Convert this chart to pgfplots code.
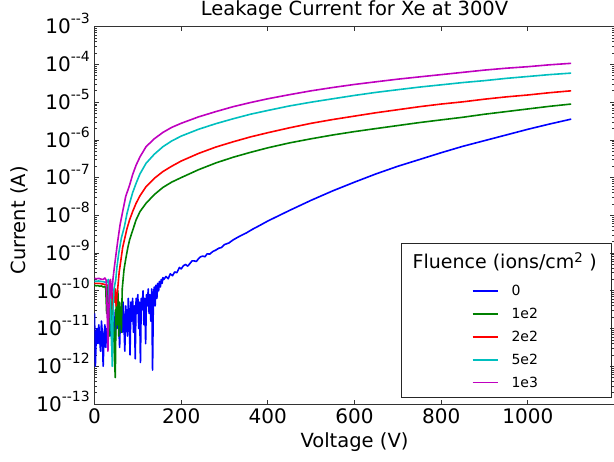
\documentclass[border=0pt]{standalone}
\usepackage{fontspec}
\setmainfont{DejaVu Sans}
\usepackage{pgfplots}
\pgfplotsset{compat=1.18}
\definecolor{mplblue}{rgb}{0,0,1}
\definecolor{mplgreen}{rgb}{0,0.5,0}
\definecolor{mplred}{rgb}{1,0,0}
\definecolor{mplcyan}{rgb}{0,0.75,0.75}
\definecolor{mplmagenta}{rgb}{0.75,0,0.75}
\begin{document}
\begin{tikzpicture}
\begin{axis}[
  at={(0pt,0pt)}, anchor=south west,
  scale only axis, width=520pt, height=377.3pt,
  xmin=0, xmax=1200, ymin=1e-13, ymax=1e-3,
  ymode=log, log basis y=10,
  axis line style={black!80, line width=0.9pt},
  every tick/.style={black!80, line width=0.7pt},
  xtick={0,200,400,600,800,1000},
  /pgf/number format/assume math mode=true,
  /pgf/number format/1000 sep={},
  tick label style={font=\fontsize{20}{24}\selectfont},
  xticklabel style={yshift=-1pt},
  yticklabel style={inner xsep=0pt, xshift=-4.5pt},
  yticklabel={10\raisebox{0.5em}[0pt][0pt]{\fontsize{14}{14}\selectfont\pgfmathparse{int(round(\tick))}-\pgfmathprintnumber[int trunc]{\pgfmathresult}}},
  title={Leakage Current for Xe at 300V},
  title style={font=\fontsize{19.5}{23}\selectfont, at={(0.5,1)}, anchor=south, yshift=-2pt},
  xlabel={Voltage (V)},
  xlabel style={font=\fontsize{19.5}{23}\selectfont, at={(rel axis cs:0.5,0)}, anchor=center, yshift=-38pt},
  ylabel={Current (A)},
  ylabel style={font=\fontsize{19.5}{23}\selectfont, at={(axis description cs:-0.1452,0.487)}, anchor=center},
  legend image code/.code={\draw[#1, line width=1.6pt] (0pt,0pt) -- (25pt,0pt); \path (36pt,0pt);},
  legend cell align=left,
  legend style={at={(rel axis cs:0.7254,0.321)}, anchor=north west, draw=none, fill=none,
    font=\fontsize{14}{16}\selectfont, row sep=7pt, inner sep=0pt},
]
% 0
\addplot[mplblue, line width=1.6pt, line join=round] coordinates {
(0,2.51e-11)(2,1.0e-12)(4,6.31e-12)(6,1.0e-11)(8,3.98e-12)(10,1.26e-11)(12,5.01e-12)(14,2.51e-12)
(16,1.58e-11)(18,7.94e-12)(20,1.0e-12)(22,6.31e-12)(24,1.26e-11)(26,3.16e-12)(28,1.0e-11)(30,5.01e-12)
(32,1.26e-11)(34,7.94e-12)(36,2.51e-11)(38,6.31e-12)(40,1.58e-11)(42,1.0e-11)(44,3.16e-11)(46,1.26e-11)
(48,5.01e-12)(50,2.51e-11)(52,1.0e-11)(54,3.98e-11)(56,1.26e-11)(58,3.16e-12)(60,3.16e-11)(62,1.58e-11)
(64,7.94e-12)(66,5.01e-11)(68,1.26e-11)(70,2.51e-12)(72,3.98e-11)(74,2.0e-11)(76,6.31e-12)(78,6.31e-11)
(80,2.51e-11)(82,2.0e-12)(84,5.01e-11)(86,1.58e-11)(88,6.31e-11)(90,7.94e-12)(92,3.98e-11)(94,1.58e-12)
(96,6.31e-11)(98,2.51e-11)(100,7.94e-11)(102,1.0e-11)(104,5.01e-11)(106,1.26e-12)(108,6.31e-11)(110,3.16e-11)
(112,1.0e-10)(114,1.26e-11)(116,6.31e-11)(118,3.98e-12)(120,7.94e-11)(122,3.98e-11)(124,1.12e-10)(126,2.51e-11)
(128,7.94e-11)(130,1.58e-11)(132,1.12e-10)(134,7.94e-13)(136,7.94e-11)(138,1.26e-10)(140,3.98e-11)(142,1.41e-10)
(144,6.31e-11)(146,1.58e-10)(148,1.0e-10)(150,1.78e-10)(152,1.26e-10)(154,2.0e-10)(156,1.58e-10)(158,2.24e-10)
(160,2.0e-10)(165,2.40e-10)(170,2.09e-10)(175,2.82e-10)(180,2.51e-10)(185,3.16e-10)(190,3.02e-10)(196,4.17e-10)
(200,3.80e-10)(205,4.6e-10)(210,5.01e-10)(215,4.5e-10)(220,5.25e-10)(225,6.2e-10)(230,6.2e-10)(235,6.0e-10)
(240,7.08e-10)(245,8.0e-10)(250,8.32e-10)(255,8.0e-10)(260,9.55e-10)(266,9.4e-10)(273,1.10e-9)(280,1.2e-9)
(287,1.35e-9)(293,1.4e-9)(300,1.68e-9)(310,1.85e-9)(320,2.24e-9)(335,2.8e-9)(350,3.4e-9)(365,4.3e-9)
(380,5.3e-9)(400,7.08e-9)(450,1.35e-8)(500,2.51e-8)(550,4.47e-8)(600,7.59e-8)(650,1.26e-7)(700,2.0e-7)
(750,3.02e-7)(800,4.57e-7)(850,6.76e-7)(900,9.55e-7)(950,1.35e-6)(1000,1.91e-6)(1050,2.63e-6)(1100,3.55e-6)
};
\addlegendentry{0}
% 1e2
\addplot[mplgreen, line width=1.6pt, line join=round] coordinates {
(0,1.41e-10)(4,1.35e-10)(8,1.38e-10)(12,1.32e-10)(16,1.35e-10)(20,1.26e-10)(24,1.32e-10)(26,1.12e-10)
(28,2.51e-11)(30,1.26e-10)(32,6.31e-11)(34,6.31e-12)(36,1.0e-10)(38,3.98e-11)(40,3.16e-12)(42,7.94e-11)
(44,1.58e-11)(46,1.58e-12)(48,5.01e-13)(50,6.31e-11)(52,1.26e-11)(54,1.0e-10)(56,6.31e-12)(58,5.01e-11)
(60,2.51e-11)(62,7.94e-12)(64,1.12e-10)(66,2.0e-10)(68,3.55e-10)(70,5.01e-10)(73,7.94e-10)(77,1.41e-9)
(81,2.24e-9)(88,3.98e-9)(96,7.59e-9)(105,1.26e-8)(119,2.09e-8)(138,3.55e-8)(158,5.50e-8)(178,7.59e-8)
(200,1.0e-7)(240,1.62e-7)(280,2.45e-7)(320,3.47e-7)(360,4.68e-7)(400,6.17e-7)(450,8.32e-7)(500,1.07e-6)
(550,1.35e-6)(600,1.66e-6)(650,2.0e-6)(700,2.40e-6)(750,2.88e-6)(800,3.39e-6)(850,3.98e-6)(900,4.79e-6)
(950,5.62e-6)(1000,6.61e-6)(1050,7.76e-6)(1100,8.91e-6)
};
\addlegendentry{1e2}
% 2e2
\addplot[mplred, line width=1.6pt, line join=round] coordinates {
(0,1.58e-10)(10,1.58e-10)(20,1.51e-10)(30,1.41e-10)(36,1.26e-10)(40,7.94e-11)(42,3.16e-11)(44,1.0e-10)
(46,5.01e-11)(48,1.12e-10)(50,3.98e-11)(52,7.94e-11)(54,1.29e-10)(57,3.16e-10)(61,6.61e-10)(65,1.41e-9)
(69,2.24e-9)(75,4.47e-9)(81,7.59e-9)(88,1.26e-8)(96,2.09e-8)(105,3.31e-8)(119,5.75e-8)(138,9.55e-8)
(158,1.45e-7)(178,2.0e-7)(200,2.75e-7)(240,4.37e-7)(280,6.46e-7)(320,8.91e-7)(360,1.20e-6)(400,1.55e-6)
(450,2.09e-6)(500,2.75e-6)(550,3.47e-6)(600,4.27e-6)(650,5.25e-6)(700,6.31e-6)(750,7.59e-6)(800,8.91e-6)
(850,1.02e-5)(900,1.20e-5)(950,1.38e-5)(1000,1.55e-5)(1050,1.78e-5)(1100,2.0e-5)
};
\addlegendentry{2e2}
% 5e2
\addplot[mplcyan, line width=1.6pt, line join=round] coordinates {
(0,1.78e-10)(10,1.82e-10)(20,1.74e-10)(28,1.66e-10)(32,2.0e-10)(34,5.01e-11)(36,1.58e-10)(38,1.58e-11)
(40,3.16e-12)(41,1.0e-12)(43,3.16e-11)(45,1.12e-10)(49,1.95e-10)(52,4.47e-10)(56,1.0e-9)(62,2.51e-9)
(69,5.01e-9)(75,1.12e-8)(81,2.09e-8)(88,3.98e-8)(96,7.08e-8)(105,1.26e-7)(119,2.40e-7)(138,4.17e-7)
(158,6.61e-7)(178,9.33e-7)(200,1.26e-6)(240,1.91e-6)(280,2.69e-6)(320,3.63e-6)(360,4.79e-6)(400,6.03e-6)
(450,7.94e-6)(500,1.0e-5)(550,1.23e-5)(600,1.51e-5)(650,1.82e-5)(700,2.14e-5)(750,2.51e-5)(800,2.88e-5)
(850,3.31e-5)(900,3.72e-5)(950,4.27e-5)(1000,4.79e-5)(1050,5.37e-5)(1100,5.89e-5)
};
\addlegendentry{5e2}
% 1e3
\addplot[mplmagenta, line width=1.6pt, line join=round] coordinates {
(0,2.14e-10)(5,2.09e-10)(10,2.14e-10)(15,2.04e-10)(20,2.0e-10)(24,2.19e-10)(27,1.91e-10)(29,3.98e-11)
(31,2.51e-12)(33,2.51e-11)(35,1.78e-10)(37,2.0e-10)(39,6.31e-11)(41,1.26e-10)(43,2.24e-10)(46,4.37e-10)
(50,1.0e-9)(54,2.24e-9)(59,5.62e-9)(65,1.26e-8)(72,3.16e-8)(81,6.31e-8)(88,1.20e-7)(96,2.14e-7)
(105,3.55e-7)(119,6.61e-7)(138,1.07e-6)(158,1.58e-6)(178,2.14e-6)(200,2.75e-6)(240,4.07e-6)(280,5.62e-6)
(320,7.59e-6)(360,9.77e-6)(400,1.23e-5)(450,1.58e-5)(500,2.0e-5)(550,2.45e-5)(600,2.95e-5)(650,3.47e-5)
(700,4.07e-5)(750,4.68e-5)(800,5.37e-5)(850,6.17e-5)(900,7.08e-5)(950,7.94e-5)(1000,8.71e-5)(1050,9.77e-5)
(1100,1.07e-4)
};
\addlegendentry{1e3}
\draw[black!85, line width=0.8pt] (rel axis cs:0.591,0.018) rectangle (rel axis cs:0.995,0.426);
\node[font=\fontsize{19}{22}\selectfont] at (rel axis cs:0.789,0.377) {Fluence (ions/cm\textsuperscript{2} )};
\end{axis}
\pgfresetboundingbox
\path[use as bounding box] (-94.5pt,-58pt) rectangle (519.5pt,404pt);
\end{tikzpicture}
\end{document}
